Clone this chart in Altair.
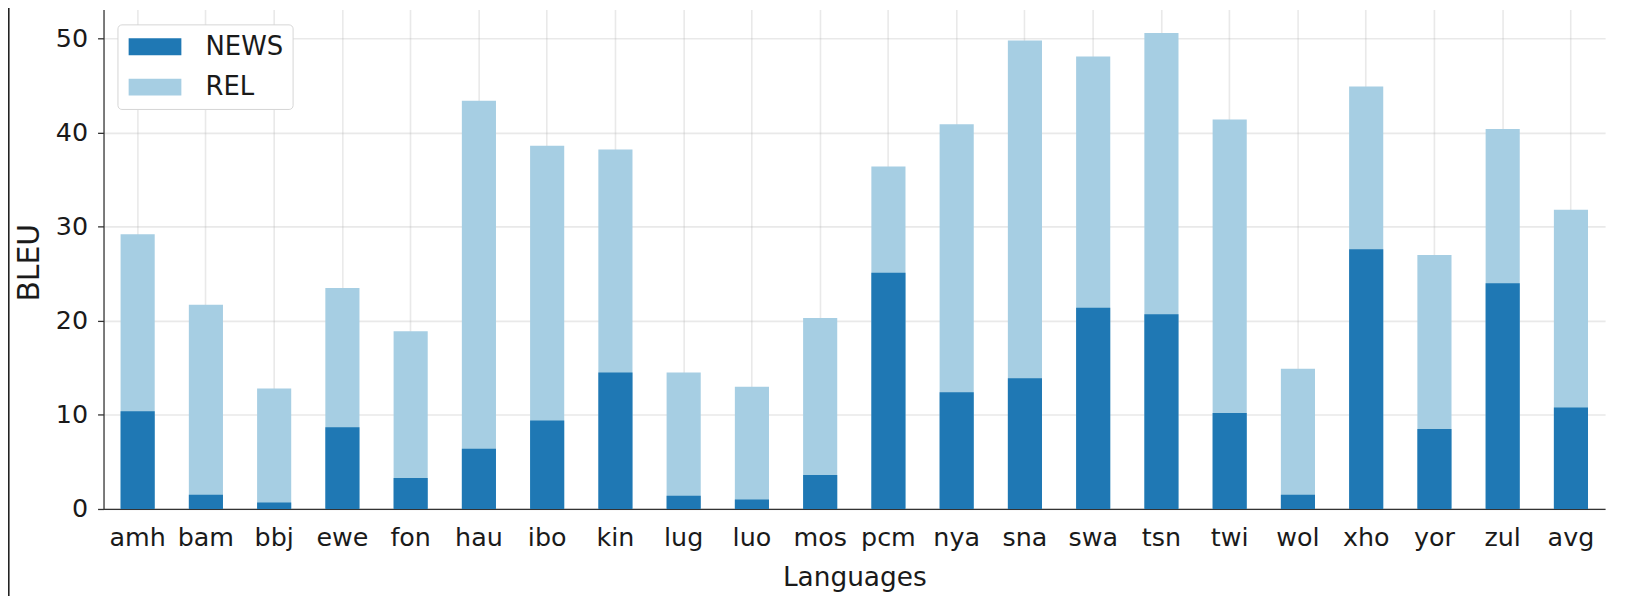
import altair as alt
import pandas as pd

languages = ["amh", "bam", "bbj", "ewe", "fon", "hau", "ibo", "kin", "lug", "luo", "mos",
             "pcm", "nya", "sna", "swa", "tsn", "twi", "wol", "xho", "yor", "zul", "avg"]
news = [10.4, 1.5, 0.7, 8.7, 3.3, 6.4, 9.4, 14.5, 1.4, 1.0, 3.6,
        25.1, 12.4, 13.9, 21.4, 20.7, 10.2, 1.5, 27.6, 8.5, 24.0, 10.8]
rel = [29.2, 21.7, 12.8, 23.5, 18.9, 43.4, 38.6, 38.2, 14.5, 13.0, 20.3,
       36.4, 40.9, 49.8, 48.1, 50.6, 41.4, 14.9, 44.9, 27.0, 40.4, 31.8]
series = ["NEWS", "REL"]
colors = ["#1f78b4", "#a6cee3"]
y_ticks = [0, 10, 20, 30, 40, 50]

rows = []
for i, lang in enumerate(languages):
    rows.append({"lang": lang, "series": "REL", "bleu": rel[i], "ord": 0})
for i, lang in enumerate(languages):
    rows.append({"lang": lang, "series": "NEWS", "bleu": news[i], "ord": 1})
df = pd.DataFrame(rows)

W, H = 1509, 502
FONT = "DejaVu Sans"
TXT = "#1a1a1a"

bars = alt.Chart(df).mark_bar().encode(
    x=alt.X("lang:N", sort=languages,
            scale=alt.Scale(paddingInner=0.5, paddingOuter=0.25),
            axis=alt.Axis(title="Languages", labelAngle=0, ticks=False, bandPosition=0.5,
                          grid=True, labelPadding=17, titlePadding=13,
                          labelFontSize=25.5, titleFontSize=26.5)),
    y=alt.Y("bleu:Q", stack=None,
            scale=alt.Scale(domain=[0, 53.1], nice=False, zero=True),
            axis=alt.Axis(title="BLEU", values=y_ticks, grid=True, tickSize=6,
                          labelPadding=10, titlePadding=11, labelFontSize=25.5,
                          titleFontSize=30, titleY=254)),
    color=alt.Color("series:N", scale=alt.Scale(domain=series, range=colors),
                    legend=alt.Legend(title=None, orient="none", legendX=14, legendY=15,
                                      symbolType="M-0.85,-0.64H3.15V0.64H-0.85Z", symbolSize=702,
                                      symbolStrokeWidth=0, symbolOpacity=1,
                                      labelFontSize=26, labelFont=FONT, labelColor=TXT,
                                      labelOffset=52.5, padding=9, rowPadding=13.5,
                                      strokeColor="#d6d6d6", cornerRadius=4,
                                      fillColor="white", zindex=2)),
    order=alt.Order("ord:Q"),
)

frame = alt.Chart(pd.DataFrame({"f": [0]})).mark_rule(color="#222222", strokeWidth=1.6).encode(
    x=alt.value(-95.2), y=alt.value(-10), y2=alt.value(H + 100)
)

chart = alt.layer(bars, frame).properties(
    width=W, height=H,
    padding={"left": 96, "top": 0, "right": 14, "bottom": 86},
    autosize=alt.AutoSizeParams(type="none"),
).configure_axis(
    labelFont=FONT, titleFont=FONT,
    labelColor=TXT, titleColor=TXT, titleFontWeight="normal",
    domainColor="#333333", domainWidth=1.3, tickColor="#333333", tickWidth=1.3,
    gridColor="#b0b0b0", gridOpacity=0.28, gridWidth=1.6, zindex=1,
).configure_view(stroke=None)

chart.save("out.html", embed_options={"renderer": "svg", "actions": False})
